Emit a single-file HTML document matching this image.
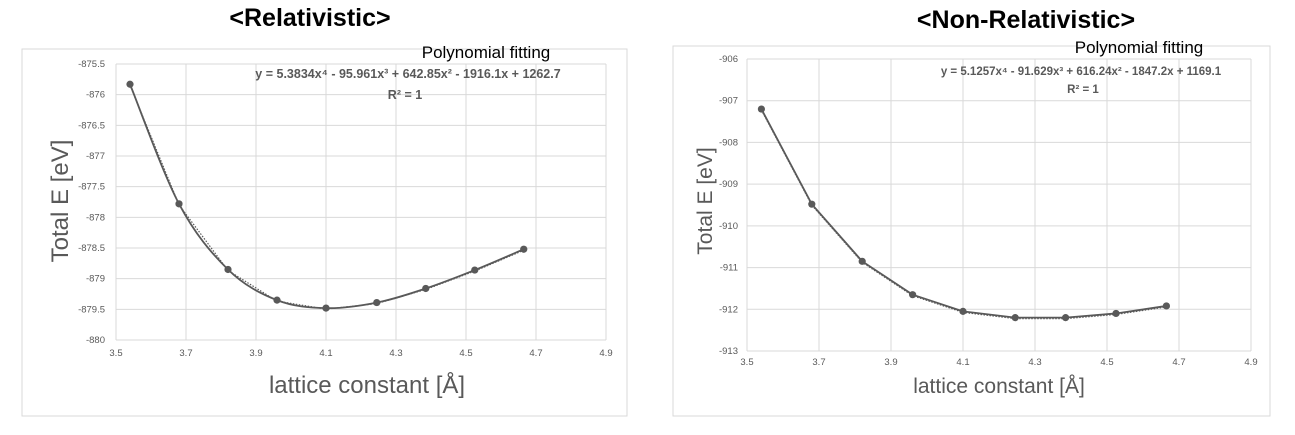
<!DOCTYPE html>
<html><head><meta charset="utf-8">
<style>
body{margin:0;background:#fff;width:1295px;height:435px;overflow:hidden;font-family:"Liberation Sans",sans-serif}
svg{position:absolute;left:0;top:0}
</style></head>
<body>
<svg id="s" width="1295" height="435">
  <text x="310" y="26" text-anchor="middle" font-size="25" font-weight="bold" fill="#000">&lt;Relativistic&gt;</text>
  <text x="1026" y="28" text-anchor="middle" font-size="25" font-weight="bold" fill="#000">&lt;Non-Relativistic&gt;</text>
  <rect x="22" y="49" width="605" height="367" fill="none" stroke="#d9d9d9"/>
  <rect x="673" y="46" width="597" height="370" fill="none" stroke="#d9d9d9"/>
  <g id="L"></g>
  <g id="R"></g>
  <text x="486" y="58" text-anchor="middle" font-size="17" fill="#000">Polynomial fitting</text>
  <text x="408" y="78" text-anchor="middle" font-size="12.5" font-weight="bold" fill="#595959">y = 5.3834x⁴ - 95.961x³ + 642.85x² - 1916.1x + 1262.7</text>
  <text x="405" y="99" text-anchor="middle" font-size="12.5" font-weight="bold" fill="#595959">R² = 1</text>
  <text x="1139" y="53" text-anchor="middle" font-size="17" fill="#000">Polynomial fitting</text>
  <text x="1081" y="75" text-anchor="middle" font-size="11.5" font-weight="bold" fill="#595959">y = 5.1257x⁴ - 91.629x³ + 616.24x² - 1847.2x + 1169.1</text>
  <text x="1083" y="93" text-anchor="middle" font-size="11.5" font-weight="bold" fill="#595959">R² = 1</text>
  <text transform="translate(68,201) rotate(-90)" text-anchor="middle" font-size="24" fill="#595959">Total E [eV]</text>
  <text transform="translate(712,201) rotate(-90)" text-anchor="middle" font-size="21" fill="#595959">Total E [eV]</text>
  <text x="367" y="393" text-anchor="middle" font-size="24" fill="#595959">lattice constant [Å]</text>
  <text x="999" y="393" text-anchor="middle" font-size="21" fill="#595959">lattice constant [Å]</text>
</svg>
<script>
const xVals = [3.54, 3.68, 3.82, 3.96, 4.10, 4.245, 4.385, 4.525, 4.665];
const relE = [-875.83, -877.78, -878.85, -879.35, -879.48, -879.39, -879.16, -878.86, -878.52];
const nonRelE = [-907.2, -909.48, -910.85, -911.65, -912.05, -912.2, -912.2, -912.1, -911.92];
const xTicks = [3.5, 3.7, 3.9, 4.1, 4.3, 4.5, 4.7, 4.9];
const relYTicks = [-875.5, -876, -876.5, -877, -877.5, -878, -878.5, -879, -879.5, -880];
const nonRelYTicks = [-906, -907, -908, -909, -910, -911, -912, -913];
const NS = "http://www.w3.org/2000/svg";
function mk(g, tag, attrs){const e=document.createElementNS(NS,tag);for(const k in attrs)e.setAttribute(k,attrs[k]);g.appendChild(e);return e;}
function chart(gid, ys, yTicks, box, smooth, fs, tickDy, yOff){
  const g=document.getElementById(gid);
  const xmin=xTicks[0], xmax=xTicks[xTicks.length-1];
  const ymax=Math.max(...yTicks), ymin=Math.min(...yTicks);
  const X=v=>box.l+(v-xmin)/(xmax-xmin)*(box.r-box.l);
  const Y=v=>box.t+(ymax-v)/(ymax-ymin)*(box.b-box.t);
  xTicks.forEach(t=>{
    const l=mk(g,'line',{x1:X(t),x2:X(t),y1:box.t,y2:box.b,stroke:'#d9d9d9','stroke-width':1});
    
    
    const tx=mk(g,'text',{x:X(t),y:box.b+tickDy,'text-anchor':'middle','font-size':fs,fill:'#595959'});
    tx.textContent=t.toFixed(1);
    
    
  });
  yTicks.forEach(t=>{
    const l=mk(g,'line',{x1:box.l,x2:box.r,y1:Y(t),y2:Y(t),stroke:'#d9d9d9','stroke-width':1});
    
    
    const tx=mk(g,'text',{x:box.l-yOff,y:Y(t)+3,'text-anchor':'end','font-size':fs,fill:'#595959'});
    tx.textContent=String(t);
    
    
  });
  const P=xVals.map((x,i)=>[X(x),Y(ys[i])]);
  let dl='M'+P.map(p=>p[0]+','+(p[1]+1)).join(' L');
  const tr=mk(g,'path',{d:dl,fill:'none',stroke:'#595959','stroke-width':1.2,'stroke-dasharray':'1.5,1.5'});
  
  
  let d='M'+P[0][0]+','+P[0][1];
  if(smooth){
    for(let i=0;i<P.length-1;i++){
      const p0=P[Math.max(i-1,0)],p1=P[i],p2=P[i+1],p3=P[Math.min(i+2,P.length-1)];
      const c1=[p1[0]+(p2[0]-p0[0])/6,p1[1]+(p2[1]-p0[1])/6];
      const c2=[p2[0]-(p3[0]-p1[0])/6,p2[1]-(p3[1]-p1[1])/6];
      d+=` C${c1[0]},${c1[1]} ${c2[0]},${c2[1]} ${p2[0]},${p2[1]}`;
    }
  } else { d+=P.slice(1).map(p=>' L'+p[0]+','+p[1]).join(''); }
  const ln=mk(g,'path',{d:d,fill:'none',stroke:'#595959','stroke-width':1.8});
  
  
  P.forEach(p=>{
    const c=mk(g,'circle',{cx:p[0],cy:p[1],r:3.6,fill:'#595959'});
    
    
  });
}
chart('L', relE, relYTicks, {l:116,r:606,t:64,b:340}, true, 9.5, 16, 11);
chart('R', nonRelE, nonRelYTicks, {l:747,r:1251,t:59,b:351}, false, 9.5, 14, 9);
</script>
</body></html>
